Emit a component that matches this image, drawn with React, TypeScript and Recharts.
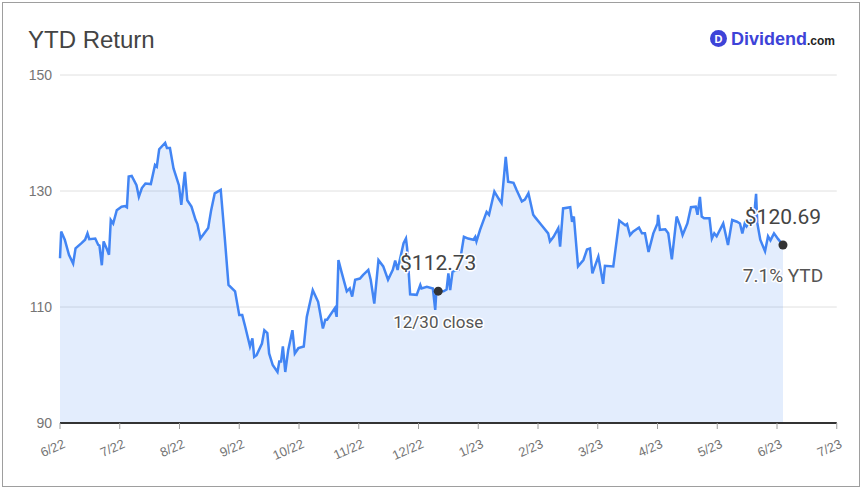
import React from 'react';
import { AreaChart, Area, XAxis, YAxis, CartesianGrid, ReferenceDot } from 'recharts';

// x position in months since June 2022 (axis ticks are month starts)
const months = [
  0.00, 0.02, 0.08, 0.15, 0.22, 0.26, 0.36, 0.42, 0.46, 0.49,
  0.59, 0.64, 0.66, 0.70, 0.73, 0.78, 0.82, 0.85, 0.89, 0.95,
  1.03, 1.09, 1.12, 1.15, 1.20, 1.28, 1.32, 1.37, 1.43, 1.52,
  1.59, 1.62, 1.66, 1.76, 1.79, 1.84, 1.90, 1.99, 2.03, 2.09,
  2.13, 2.20, 2.27, 2.30, 2.35, 2.48, 2.53, 2.59, 2.69, 2.76,
  2.82, 2.93, 3.00, 3.05, 3.10, 3.18, 3.22, 3.25, 3.29, 3.38,
  3.42, 3.47, 3.50, 3.56, 3.64, 3.67, 3.70, 3.73, 3.77, 3.82,
  3.89, 3.93, 3.99, 4.08, 4.13, 4.23, 4.32, 4.40, 4.44, 4.47,
  4.60, 4.63, 4.66, 4.71, 4.80, 4.85, 4.89, 4.94, 5.02, 5.07,
  5.10, 5.16, 5.20, 5.26, 5.33, 5.41, 5.49, 5.57, 5.61, 5.65,
  5.75, 5.79, 5.81, 5.86, 5.97, 6.03, 6.05, 6.14, 6.24, 6.28,
  6.30, 6.33, 6.42, 6.47, 6.50, 6.53, 6.57, 6.67, 6.76, 6.83,
  6.92, 6.95, 6.97, 7.03, 7.14, 7.18, 7.27, 7.34, 7.39, 7.46,
  7.50, 7.59, 7.64, 7.73, 7.78, 7.84, 7.92, 7.95, 8.06, 8.17,
  8.20, 8.26, 8.34, 8.37, 8.42, 8.54, 8.57, 8.60, 8.67, 8.76,
  8.82, 8.87, 8.91, 9.01, 9.09, 9.12, 9.26, 9.36, 9.46, 9.49,
  9.54, 9.59, 9.69, 9.74, 9.79, 9.85, 9.93, 10.00, 10.01, 10.04,
  10.13, 10.18, 10.24, 10.32, 10.38, 10.42, 10.50, 10.56, 10.64, 10.67,
  10.71, 10.74, 10.78, 10.87, 10.91, 10.95, 10.99, 11.10, 11.18, 11.25,
  11.33, 11.38, 11.42, 11.46, 11.49, 11.55, 11.61, 11.65, 11.67, 11.72,
  11.80, 11.85, 11.89, 11.95, 12.02, 12.10,
];

const prices = [
  118.4, 123.0, 121.6, 119.0, 117.5, 120.1, 121.0, 121.6, 122.7, 121.7,
  121.8, 120.7, 120.6, 117.2, 121.3, 120.1, 119.0, 125.0, 124.4, 126.7,
  127.3, 127.4, 127.2, 132.5, 132.6, 131.0, 129.0, 130.5, 131.3, 131.2,
  134.5, 134.2, 137.2, 138.3, 137.4, 137.4, 133.9, 131.0, 127.6, 133.3,
  128.4, 127.3, 125.0, 124.3, 121.8, 123.6, 126.7, 129.6, 130.2, 121.6,
  113.8, 112.7, 108.6, 108.6, 106.6, 103.2, 104.6, 101.4, 101.7, 103.7,
  106.0, 105.5, 102.0, 100.0, 98.8, 100.6, 100.6, 103.2, 98.8, 102.6,
  106.0, 102.0, 102.9, 103.2, 108.3, 112.9, 110.9, 106.3, 107.8, 107.8,
  109.8, 108.3, 118.1, 116.1, 112.7, 113.2, 111.8, 114.7, 114.9, 115.5,
  115.8, 116.4, 114.7, 110.6, 118.1, 117.0, 114.7, 116.4, 118.0, 116.4,
  121.0, 121.8, 120.1, 112.2, 112.1, 113.8, 113.2, 113.5, 113.2, 109.5,
  112.9, 112.73, 112.7, 113.0, 115.8, 112.9, 116.1, 116.4, 122.1, 121.8,
  121.6, 122.1, 121.3, 123.3, 126.4, 125.9, 129.9, 128.7, 127.9, 135.9,
  131.6, 131.4, 130.2, 128.2, 128.5, 129.6, 125.9, 125.5, 124.1, 122.7,
  121.3, 122.1, 123.6, 120.4, 127.0, 127.2, 124.7, 125.6, 117.0, 118.1,
  119.9, 120.1, 115.8, 118.7, 114.0, 117.1, 117.0, 124.9, 124.1, 124.3,
  122.4, 123.0, 123.7, 122.7, 122.7, 119.5, 122.7, 124.4, 125.9, 123.3,
  123.4, 122.7, 118.2, 125.6, 123.9, 122.4, 124.4, 127.2, 127.3, 125.9,
  129.0, 125.6, 125.3, 125.3, 121.8, 122.7, 122.2, 124.4, 120.7, 125.0,
  124.7, 124.4, 122.7, 124.4, 123.9, 124.9, 125.0, 129.5, 124.5, 121.6,
  119.6, 122.2, 121.5, 122.7, 121.7, 120.69,
];

const tickMonths = [0, 1, 2, 3, 4, 5, 6, 7, 8, 9, 10, 11, 12, 13];
const tickLabels = ['6/22', '7/22', '8/22', '9/22', '10/22', '11/22', '12/22', '1/23', '2/23', '3/23', '4/23', '5/23', '6/23', '7/23'];
const yTicks = [90, 110, 130, 150];

const closeMonth = 6.33;
const closePrice = 112.73;
const lastMonth = 12.10;
const lastPrice = 120.69;

const data = months.map((t, i) => ({ t, v: prices[i] }));

const SANS = "'Liberation Sans', Arial, sans-serif";
const ROBOTO = "Roboto, 'Liberation Sans', sans-serif";

const XTick = (props: any) => {
  const { x, y, payload } = props;
  const label = tickLabels[tickMonths.indexOf(payload.value)];
  const ax = x + 6;
  const ay = y + 16;
  return (
    <text x={ax} y={ay} textAnchor="end" fontSize={13} fontFamily={SANS} fill="#757575" transform={`rotate(-24, ${ax}, ${ay})`}>
      {label}
    </text>
  );
};

const makeShape = (top: string, bottom: string, bottomSize: number) => (p: any) => {
  const { cx, cy } = p;
  const halo = { paintOrder: 'stroke' as any, stroke: '#fff', strokeWidth: 3, strokeLinejoin: 'round' as any };
  return (
    <g>
      <circle cx={cx} cy={cy} r={4.5} fill="#333" />
      <text x={cx} y={cy - 21} textAnchor="middle" fontSize={21} fontFamily={ROBOTO} fill="#444" style={halo}>{top}</text>
      <text x={cx} y={cy + 37} textAnchor="middle" fontSize={bottomSize} fontFamily={ROBOTO} fill="#555" style={halo}>{bottom}</text>
    </g>
  );
};

export default function App() {
  return (
    <div style={{ position: 'absolute', left: 0, top: 0, width: 866, height: 491, background: '#fff' }}>
      <div style={{ position: 'absolute', left: 2, top: 2, width: 856, height: 483, border: '1px solid #9e9e9e' }} />
      <svg width={866} height={70} style={{ position: 'absolute', left: 0, top: 0 }}>
        <text x={28} y={48} fontSize={24} fontFamily={SANS} fill="#444">YTD Return</text>
        <circle cx={718.5} cy={38.5} r={8.5} fill="#3d43d8" />
        <text x={718.5} y={42.5} textAnchor="middle" fontSize={11} fontWeight={700} fontFamily={SANS} fill="#fff">D</text>
        <text x={731} y={45} fontWeight={700} fontFamily={SANS}>
          <tspan fontSize={18} fill="#3d43d8">Dividend</tspan>
          <tspan fontSize={12} fill="#222">.com</tspan>
        </text>
      </svg>
      <div style={{ position: 'absolute', left: 0, top: 0 }}>
        <AreaChart width={866} height={491} data={data} margin={{ top: 75, right: 29.25, bottom: 0, left: 0 }}>
          <CartesianGrid vertical={false} stroke="#e0e0e0" />
          <XAxis
            dataKey="t"
            type="number"
            domain={[0, 13]}
            ticks={tickMonths}
            interval={0}
            height={68}
            axisLine={{ stroke: '#333', strokeWidth: 2 }}
            tickLine={{ stroke: '#9e9e9e' }}
            tickSize={6}
            tick={<XTick />}
          />
          <YAxis
            type="number"
            domain={[90, 150]}
            ticks={yTicks}
            width={60}
            axisLine={false}
            tickLine={false}
            tick={{ fill: '#757575', fontSize: 14, fontFamily: SANS }}
          />
          <Area
            type="linear"
            dataKey="v"
            stroke="#4285f4"
            strokeWidth={2.5}
            fill="#4285f4"
            fillOpacity={0.15}
            dot={false}
            activeDot={false}
            isAnimationActive={false}
          />
          <ReferenceDot x={closeMonth} y={closePrice} r={4.5} shape={makeShape('$112.73', '12/30 close', 17)} />
          <ReferenceDot x={lastMonth} y={lastPrice} r={4.5} shape={makeShape('$120.69', '7.1% YTD', 19)} />
        </AreaChart>
      </div>
    </div>
  );
}
